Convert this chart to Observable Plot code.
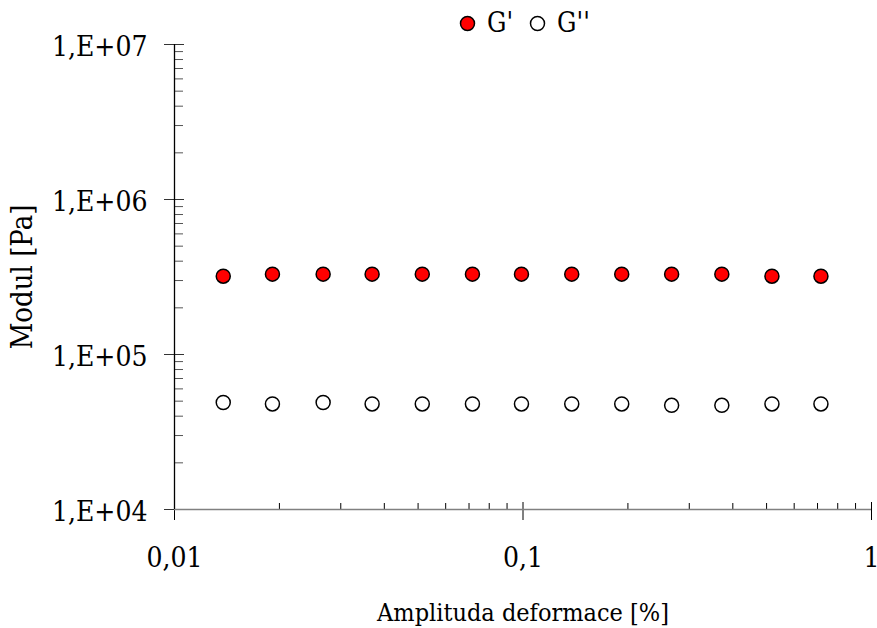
<!DOCTYPE html>
<html>
<head>
<meta charset="utf-8">
<script src="https://cdn.jsdelivr.net/npm/d3@7"></script>
<script src="https://cdn.jsdelivr.net/npm/@observablehq/plot@0.6"></script>
<style>
  body { margin: 0; background: #fff; }
  #wrap { position: relative; width: 877px; height: 628px; font-family: "DejaVu Serif Condensed", "DejaVu Serif", serif; font-stretch: condensed; }
  #legend { position: absolute; top: 6px; left: 459px; display: flex; align-items: center; font-size: 27px; color: #000; line-height: 34px; }
  #legend svg { display: block; }
  #legend .lab { margin-left: 11px; }
  #legend .sep { margin-left: 16px; }
</style>
</head>
<body>
<div id="wrap">
  <div id="legend"></div>
</div>
<script>
// Strain amplitude sweep: storage (G') and loss (G'') modulus
const strain = [0.0138, 0.0191, 0.0267, 0.0369, 0.0514, 0.0716, 0.099, 0.138, 0.192, 0.267, 0.372, 0.518, 0.716];
const gStorage = [3.2e5, 3.3e5, 3.3e5, 3.3e5, 3.3e5, 3.3e5, 3.3e5, 3.3e5, 3.3e5, 3.3e5, 3.3e5, 3.2e5, 3.2e5];
const gLoss = [4.9e4, 4.8e4, 4.9e4, 4.8e4, 4.8e4, 4.8e4, 4.8e4, 4.8e4, 4.8e4, 4.7e4, 4.7e4, 4.8e4, 4.8e4];

const seriesNames = ["G'", "G''"];

// Axis extents and tick positions
const xDomain = [0.01, 1];
const yDomain = [1e4, 1e7];
const xMajor = [0.01, 0.1, 1];
const xMinor = [0.02, 0.03, 0.04, 0.05, 0.06, 0.07, 0.08, 0.09,
                0.2, 0.3, 0.4, 0.5, 0.6, 0.7, 0.8, 0.9];
const yMajor = [1e4, 1e5, 1e6, 1e7];
const yMinor = [2e4, 3e4, 4e4, 5e4, 6e4, 7e4, 8e4, 9e4,
                2e5, 3e5, 4e5, 5e5, 6e5, 7e5, 8e5, 9e5,
                2e6, 3e6, 4e6, 5e6, 6e6, 7e6, 8e6, 9e6];

const rows = strain.map((s, i) => ({strain: s, gp: gStorage[i], gpp: gLoss[i]}));

const fmtX = d => String(d).replace(".", ",");
const fmtY = d => "1,E+" + String(Math.round(Math.log10(d))).padStart(2, "0");
const blank = () => "";
const serif = '"DejaVu Serif Condensed", "DejaVu Serif", serif';

const chart = Plot.plot({
  width: 877,
  height: 628,
  marginLeft: 174,
  marginRight: 6,
  marginTop: 44,
  marginBottom: 119,
  style: {
    fontFamily: serif,
    fontStretch: "condensed",
    fontSize: "28px",
    background: "white",
    color: "black",
    overflow: "visible"
  },
  x: {type: "log", domain: xDomain, axis: null},
  y: {type: "log", domain: yDomain, axis: null},
  marks: [
    // minor ticks (inside the frame)
    Plot.axisX(xMinor, {tickSize: 6, dy: -6, tickFormat: blank, label: null, stroke: "#000"}),
    Plot.axisY(yMinor, {tickSize: 9, dx: 9, tickFormat: blank, label: null, stroke: "#555"}),
    // major ticks (crossing the axis lines)
    Plot.axisX(xMajor, {tickSize: 18, dy: -7, tickFormat: blank, label: null, stroke: "#000"}),
    Plot.axisY(yMajor, {tickSize: 20, dx: 10, tickFormat: blank, label: null, stroke: "#333"}),
    // axis lines
    Plot.ruleY([yDomain[0]], {stroke: "#808080", strokeWidth: 1.6}),
    Plot.ruleX([xDomain[0]], {stroke: "#000", strokeWidth: 1.3}),
    // tick labels
    Plot.axisX(xMajor, {tickSize: 0, tickPadding: 38, tickFormat: fmtX, fontSize: 28, label: null}),
    Plot.axisY(yMajor, {tickSize: 0, tickPadding: 27, tickFormat: fmtY, fontSize: 28, dy: 3, label: null}),
    // axis titles
    Plot.axisX(xMajor, {
      tickSize: 0, tickFormat: blank, fontSize: 25,
      label: "Amplituda deformace [%]", labelAnchor: "center", labelOffset: 111, labelArrow: "none"
    }),
    Plot.axisY(yMajor, {
      tickSize: 0, tickFormat: blank, fontSize: 29,
      label: "Modul [Pa]", labelAnchor: "center", labelOffset: 163, labelArrow: "none"
    }),
    // data
    Plot.dot(rows, {x: "strain", y: "gpp", r: 7, fill: "white", stroke: "black", strokeWidth: 1.5}),
    Plot.dot(rows, {x: "strain", y: "gp", r: 7, fill: "#ff0000", stroke: "black", strokeWidth: 1.5})
  ]
});

document.getElementById("wrap").appendChild(chart);

// Legend above the frame
const swatch = fill =>
  `<svg width="17" height="17" viewBox="-8.5 -8.5 17 17"><circle r="7" fill="${fill}" stroke="black" stroke-width="1.5"/></svg>`;
document.getElementById("legend").innerHTML =
  swatch("#ff0000") + `<span class="lab">${seriesNames[0]}</span>` +
  `<span class="sep"></span>` +
  swatch("white") + `<span class="lab">${seriesNames[1]}</span>`;
</script>
</body>
</html>
